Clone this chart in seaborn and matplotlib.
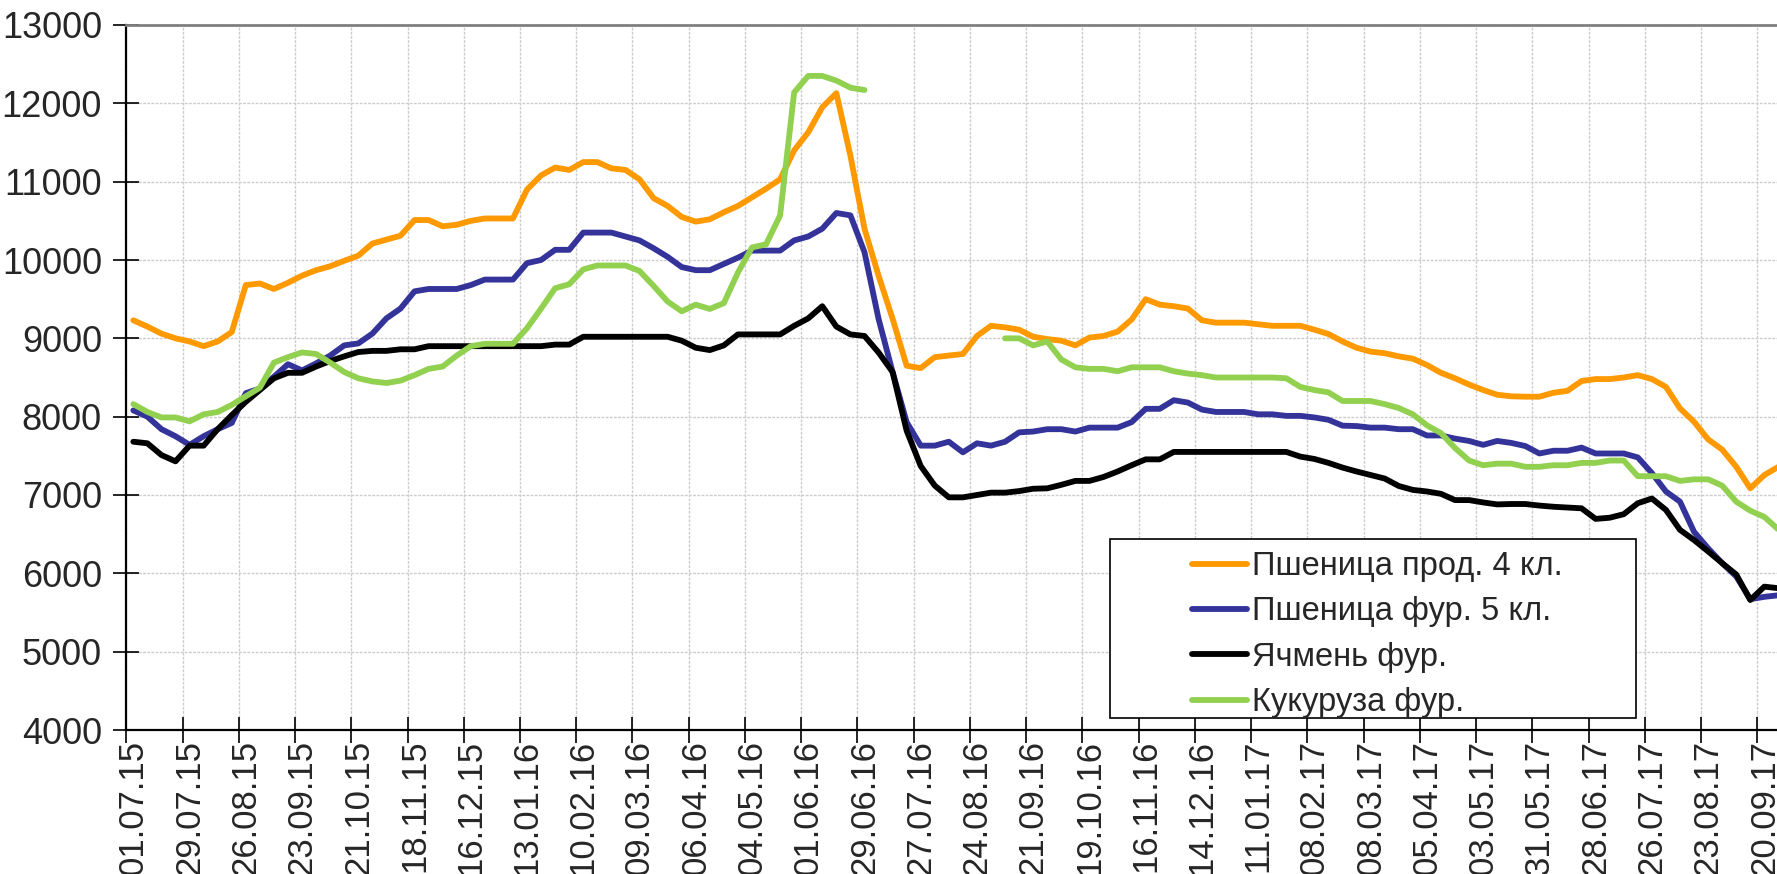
import numpy as np
import pandas as pd
import matplotlib
matplotlib.use("Agg")
import matplotlib.pyplot as plt
from matplotlib.patches import Rectangle
import seaborn as sns

# tick labels, one every 4 weeks
tick_labels = ["01.07.15", "29.07.15", "26.08.15", "23.09.15", "21.10.15", "18.11.15",
               "16.12.15", "13.01.16", "10.02.16", "09.03.16", "06.04.16", "04.05.16",
               "01.06.16", "29.06.16", "27.07.16", "24.08.16", "21.09.16", "19.10.16",
               "16.11.16", "14.12.16", "11.01.17", "08.02.17", "08.03.17", "05.04.17",
               "03.05.17", "31.05.17", "28.06.17", "26.07.17", "23.08.17", "20.09.17"]

# weekly prices, rub/t
wheat_food = [9230, 9150, 9060, 9000, 8960, 8900, 8960, 9080, 9680, 9700,
              9630, 9710, 9800, 9870, 9920, 9990, 10055, 10210, 10260, 10310,
              10510, 10510, 10430, 10450, 10500, 10530, 10530, 10530, 10900, 11080,
              11180, 11150, 11250, 11250, 11170, 11150, 11030, 10790, 10690, 10550,
              10490, 10520, 10610, 10690, 10800, 10910, 11030, 11400, 11630, 11950,
              12130, 11330, 10400, 9800, 9250, 8650, 8620, 8760, 8780, 8800,
              9030, 9160, 9140, 9110, 9020, 8990, 8970, 8910, 9010, 9030,
              9085, 9240, 9500, 9430, 9410, 9380, 9230, 9200, 9200, 9200,
              9180, 9160, 9160, 9160, 9110, 9055, 8960, 8880, 8830, 8810,
              8770, 8740, 8660, 8560, 8490, 8410, 8340, 8280, 8260, 8255,
              8255, 8305, 8330, 8455, 8480, 8480, 8500, 8530, 8480, 8380,
              8105, 7935, 7710, 7580, 7360, 7085, 7255, 7360]

wheat_feed = [8080, 8000, 7840, 7750, 7640, 7750, 7840, 7920, 8300, 8360,
              8510, 8670, 8590, 8680, 8780, 8910, 8935, 9060, 9255, 9380,
              9600, 9630, 9630, 9630, 9680, 9750, 9750, 9750, 9960, 10000,
              10130, 10130, 10350, 10350, 10350, 10300, 10250, 10150, 10040, 9910,
              9870, 9870, 9950, 10030, 10120, 10120, 10120, 10250, 10300, 10400,
              10600, 10570, 10100, 9250, 8570, 7930, 7630, 7630, 7680, 7545,
              7660, 7630, 7680, 7800, 7810, 7840, 7840, 7810, 7860, 7860,
              7860, 7930, 8100, 8100, 8210, 8180, 8090, 8060, 8060, 8060,
              8030, 8030, 8010, 8010, 7990, 7960, 7885, 7880, 7860, 7860,
              7840, 7840, 7760, 7760, 7720, 7690, 7640, 7690, 7665, 7625,
              7530, 7565, 7565, 7605, 7530, 7530, 7530, 7480, 7280, 7045,
              6915, 6530, 6320, 6130, 5960, 5670, 5700, 5720]

barley = [7680, 7660, 7510, 7430, 7630, 7630, 7840, 8020, 8190, 8340,
          8490, 8560, 8560, 8640, 8710, 8770, 8825, 8840, 8840, 8860,
          8860, 8900, 8900, 8900, 8900, 8900, 8900, 8900, 8900, 8900,
          8920, 8920, 9020, 9020, 9020, 9020, 9020, 9020, 9020, 8970,
          8880, 8850, 8910, 9050, 9050, 9050, 9050, 9160, 9255, 9410,
          9150, 9050, 9030, 8820, 8570, 7820, 7370, 7120, 6970, 6970,
          7000, 7030, 7030, 7050, 7080, 7085, 7130, 7180, 7180, 7230,
          7300, 7380, 7455, 7455, 7550, 7550, 7550, 7550, 7550, 7550,
          7550, 7550, 7550, 7490, 7460, 7410, 7350, 7300, 7255, 7210,
          7115, 7065, 7045, 7015, 6935, 6935, 6905, 6880, 6885, 6885,
          6865, 6850, 6840, 6830, 6695, 6710, 6755, 6895, 6955, 6810,
          6555, 6425, 6280, 6130, 5985, 5660, 5830, 5810]

corn = [8160, 8060, 7990, 7990, 7940, 8030, 8060, 8150, 8260, 8370,
        8690, 8760, 8820, 8800, 8690, 8570, 8490, 8450, 8430, 8460,
        8530, 8610, 8640, 8780, 8900, 8930, 8930, 8930, 9130, 9380,
        9640, 9690, 9880, 9930, 9930, 9930, 9860, 9670, 9470, 9345,
        9430, 9375, 9450, 9840, 10160, 10200, 10570, 12140, 12350, 12350,
        12290, 12200, 12170, np.nan, np.nan, np.nan, np.nan, np.nan, np.nan, np.nan,
        np.nan, np.nan, 9000, 9000, 8910, 8960, 8730, 8630, 8610, 8610,
        8580, 8630, 8630, 8630, 8580, 8550, 8530, 8500, 8500, 8500,
        8500, 8500, 8490, 8380, 8340, 8310, 8200, 8200, 8200, 8160,
        8110, 8030, 7890, 7790, 7600, 7440, 7380, 7400, 7400, 7360,
        7360, 7380, 7380, 7410, 7410, 7440, 7440, 7240, 7240, 7240,
        7180, 7200, 7200, 7120, 6915, 6800, 6720, 6560]

series = [("Пшеница прод. 4 кл.", wheat_food, "#FF9900"),
          ("Пшеница фур. 5 кл.", wheat_feed, "#333399"),
          ("Ячмень фур.", barley, "#000000"),
          ("Кукуруза фур.", corn, "#92D050")]

sns.set_theme(style="white")
plt.rcParams["font.family"] = ["Liberation Sans", "DejaVu Sans"]

W, H = 1777, 874
fig = plt.figure(figsize=(W / 100, H / 100), dpi=100)
ax = fig.add_axes([126.3 / W, 144 / H, 1 - 126.3 / W, 705 / H])

handles = []
for name, vals, color in series:
    df = pd.DataFrame({"week": np.arange(len(vals)) + 0.5, "price": vals})
    ok = df["price"].notna()
    block = (~ok).cumsum()
    first = True
    # draw each unbroken stretch separately so gaps stay empty
    for _, seg in df[ok].groupby(block[ok]):
        sns.lineplot(data=seg, x="week", y="price", color=color, lw=4.2,
                     ax=ax, legend=False, zorder=3)
        if first:
            handles.append(ax.get_lines()[-1])
            first = False

ax.set_xlim(0, 117.4)
ax.set_ylim(4000, 13000)
ax.set_yticks(range(4000, 13001, 1000))
ax.set_xticks(np.arange(0, 4 * len(tick_labels), 4))
ax.set_xticks(np.arange(0, 4 * len(tick_labels), 4) + 0.5, minor=True)
ax.set_xticklabels(tick_labels, minor=True, rotation=90)
ax.set_xlabel("")
ax.set_ylabel("")

ax.tick_params(axis="x", which="major", labelbottom=False, direction="inout",
               length=19, width=1.2, color="black", bottom=True)
ax.tick_params(axis="x", which="minor", length=0, pad=7, labelsize=25, bottom=True)
ax.tick_params(axis="y", direction="inout", length=19, width=1.2, color="black",
               pad=8, labelsize=26, left=True)

ax.grid(True, which="major", color="#cccccc", linestyle=(0, (2, 1)), lw=1)
ax.set_axisbelow(True)

for side in ["left", "bottom"]:
    ax.spines[side].set_color("black")
    ax.spines[side].set_linewidth(1.6)
ax.spines["top"].set_color("#808080")
ax.spines["top"].set_linewidth(2)
ax.spines["right"].set_visible(False)

# legend box
box = Rectangle((1110 / W, (H - 718) / H), (1636 - 1110) / W, (718 - 539) / H,
                transform=fig.transFigure, facecolor="white", edgecolor="black",
                lw=1.2, zorder=10)
fig.add_artist(box)
leg = fig.legend(handles, [s[0] for s in series], loc="upper left",
                 bbox_to_anchor=(1192 / W, (H - 551) / H), frameon=False,
                 fontsize=23.5, handlelength=1.7, handletextpad=0.15,
                 labelspacing=0.44, borderpad=0, borderaxespad=0)
leg.set_zorder(11)

fig.savefig("out.png", dpi=100)
